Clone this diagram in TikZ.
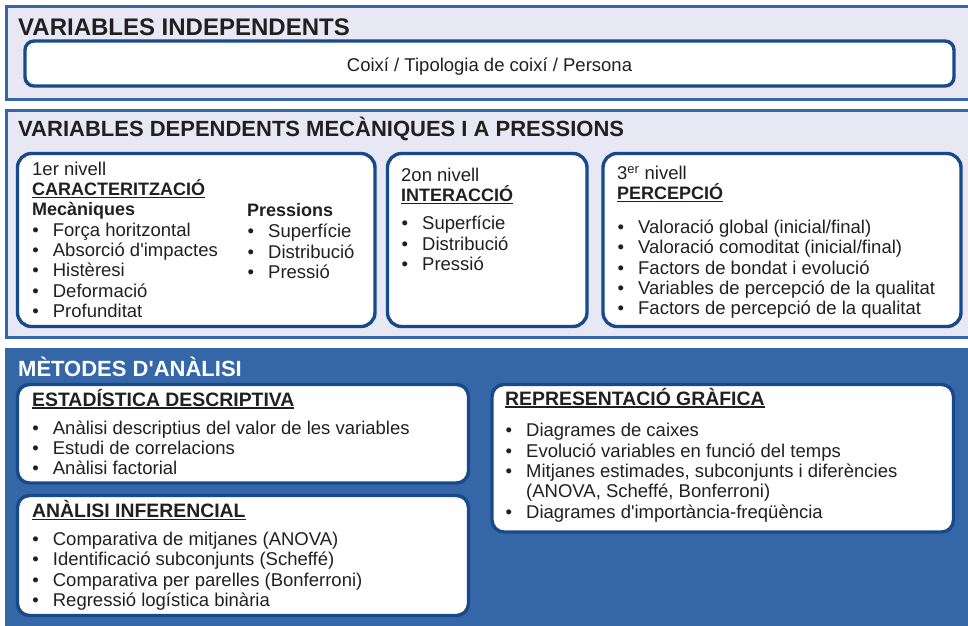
\documentclass[tikz,border=0pt]{standalone}
\usepackage{fontspec}
\setmainfont{Liberation Sans}[Ligatures=TeXOff]
\usetikzlibrary{positioning}

\definecolor{lavbg}{HTML}{E8E7F4}
\definecolor{frameblue}{HTML}{3466A8}
\definecolor{edgeblue}{HTML}{174A8B}
\definecolor{inkgray}{HTML}{231F20}

\newcommand\ulhead[1]{\setbox0\hbox{#1}\rlap{\rule[-2.7pt]{\wd0}{1.3pt}}\box0}
\newcommand\bul{\llap{\makebox[20.5pt][l]{•}}}

\tikzset{
  outerbox/.style={draw=frameblue, line width=3pt, fill=lavbg},
  innerbox/.style={draw=edgeblue, line width=3.4pt, fill=white, rounded corners=#1},
  innerbox/.default=14pt,
  bigtitle/.style={anchor=base west, inner sep=0pt, text=inkgray,
    font=\fontsize{22}{26}\selectfont\bfseries},
  txt/.style={anchor=base west, inner sep=0pt, text=inkgray,
    font=\fontsize{18.5}{20.3}\selectfont},
  subhd/.style={txt, font=\fontsize{18}{20}\selectfont\bfseries},
  bighd/.style={txt, font=\fontsize{19.4}{22}\selectfont\bfseries},
}

\begin{document}
\begin{tikzpicture}[x=1pt,y=-1pt]
\useasboundingbox (0,0) rectangle (968,625);

% variables independents
\draw[outerbox] (6.5,6.5) rectangle (990,99.5);
\node[bigtitle, font=\fontsize{24}{28}\selectfont\bfseries] (indtitle) at (18,35) {VARIABLES INDEPENDENTS};
\draw[innerbox=9pt] (25,41) rectangle (954,86);
\node[txt, anchor=base] (indvars) at (489.5,71) {Coixí / Tipologia de coixí / Persona};

% variables dependents
\draw[outerbox] (6.5,110) rectangle (990,337);
\node[bigtitle] (deptitle) at (18,136) {VARIABLES DEPENDENTS MECÀNIQUES I A PRESSIONS};
\draw[innerbox] (17.5,153.5) rectangle (375,326.5);
\draw[innerbox] (387.5,153.5) rectangle (587,326.5);
\draw[innerbox] (603,153.5) rectangle (961,326.5);

% 1er nivell
\node[txt] (lvone) at (32,175.7) {1er nivell};
\node[subhd] (lvonehd) at (32,195.3) {\ulhead{CARACTERITZACIÓ}};
\node[subhd] (mechd) at (32,215.3) {Mecàniques};
\foreach \t [count=\i] in {Força horitzontal, Absorció d'impactes, Histèresi, Deformació, Profunditat}
  \node[txt] (mec\i) at (52.7,{236.3+20.3*(\i-1)}) {\bul\t};
\node[subhd] (preshd) at (247,216.7) {Pressions};
\foreach \t [count=\i] in {Superfície, Distribució, Pressió}
  \node[txt] (pres\i) at (268,{237.8+20.3*(\i-1)}) {\bul\t};

% 2on nivell
\node[txt] (lvtwo) at (401,181.5) {2on nivell};
\node[subhd] (lvtwohd) at (401,201.7) {\ulhead{INTERACCIÓ}};
\foreach \t [count=\i] in {Superfície, Distribució, Pressió}
  \node[txt] (inter\i) at (422,{229.8+20.3*(\i-1)}) {\bul\t};

% 3er nivell
\node[txt] (lvthree) at (617,179.5) {3\textsuperscript{er} nivell};
\node[subhd] (lvthreehd) at (617,199.5) {\ulhead{PERCEPCIÓ}};
\foreach \t [count=\i] in {Valoració global (inicial/final), Valoració comoditat (inicial/final),
    Factors de bondat i evolució, Variables de percepció de la qualitat, Factors de percepció de la qualitat}
  \node[txt] (perc\i) at (638,{233.5+20.3*(\i-1)}) {\bul\t};

% metodes d'analisi
\fill[frameblue] (5,347.5) rectangle (990,640);
\node[bigtitle, text=white] (mettitle) at (18,376.7) {MÈTODES D'ANÀLISI};
\draw[innerbox=12pt] (17.5,384.5) rectangle (468.5,483);
\draw[innerbox=12pt] (17.5,495.5) rectangle (468.5,615.5);
\draw[innerbox=12pt] (492,384.5) rectangle (953.5,532);

\node[bighd] (deschd) at (32,406) {\ulhead{ESTADÍSTICA DESCRIPTIVA}};
\foreach \t [count=\i] in {Anàlisi descriptius del valor de les variables, Estudi de correlacions, Anàlisi factorial}
  \node[txt] (desc\i) at (52.7,{434+20.4*(\i-1)}) {\bul\t};

\node[bighd] (infhd) at (32,517.7) {\ulhead{ANÀLISI INFERENCIAL}};
\foreach \t [count=\i] in {Comparativa de mitjanes (ANOVA), Identificació subconjunts (Scheffé),
    Comparativa per parelles (Bonferroni), Regressió logística binària}
  \node[txt] (inf\i) at (52.7,{545.3+20.4*(\i-1)}) {\bul\t};

\node[bighd] (rephd) at (505,405) {\ulhead{REPRESENTACIÓ GRÀFICA}};
\node[txt] (rep1) at (526,436.7) {\bul Diagrames de caixes};
\node[txt] (rep2) at (526,457.1) {\bul Evolució variables en funció del temps};
\node[txt] (rep3) at (526,477.5) {\bul Mitjanes estimades, subconjunts i diferències};
\node[txt] (rep4) at (526,497.9) {(ANOVA, Scheffé, Bonferroni)};
\node[txt] (rep5) at (526,518.3) {\bul Diagrames d'importància-freqüència};
\end{tikzpicture}
\end{document}
